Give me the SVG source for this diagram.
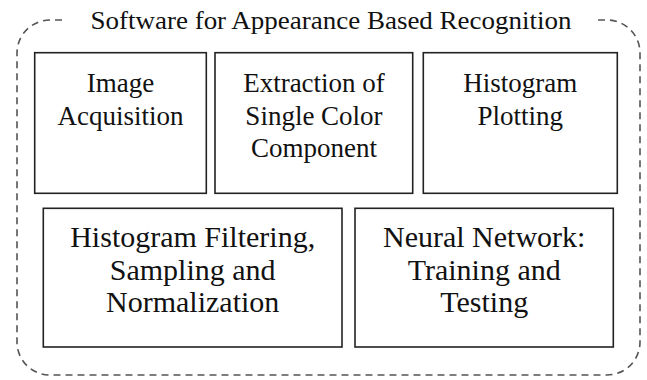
<svg xmlns="http://www.w3.org/2000/svg" width="647" height="380" viewBox="0 0 647 380">
<style>
.box{fill:#fff;stroke:#222;stroke-width:1.6}
text{font-family:'Liberation Serif','DejaVu Serif',serif;fill:#111;text-anchor:middle}
.s{font-size:27px}
.b{font-size:30px}
.outer{fill:none;stroke:#555;stroke-width:1.6;stroke-dasharray:7 5}
</style>
<rect width="647" height="380" fill="#fff"/>
<g id="container">
<path class="outer" d="M62,20 L50,20 A33,33 0 0 0 17,53 L17,342 A33,33 0 0 0 50,375 L607,375 A33,33 0 0 0 640,342 L640,53 A33,33 0 0 0 607,20 L595,20"/>
<text x="331" y="29" font-size="26" font-family="Liberation Serif" textLength="481" lengthAdjust="spacingAndGlyphs">Software for Appearance Based Recognition</text>
</g>
<g id="connectors"></g>
<g id="n1" font-family="Liberation Serif">
<rect class="box" x="34.7" y="52.7" width="171.6" height="140.6"/>
<text class="s" x="120.5" y="91.7">Image</text>
<text class="s" x="120.5" y="124.5">Acquisition</text>
</g>
<g id="n2">
<rect class="box" x="215" y="52.7" width="197.7" height="140.6"/>
<text class="s" x="314" y="91.7">Extraction of</text>
<text class="s" x="314" y="124.5">Single Color</text>
<text class="s" x="314" y="157.3">Component</text>
</g>
<g id="n3">
<rect class="box" x="423.3" y="52.7" width="194" height="140.6"/>
<text class="s" x="520.3" y="91.7">Histogram</text>
<text class="s" x="520.3" y="124.5">Plotting</text>
</g>
<g id="n4">
<rect class="box" x="43.3" y="208.3" width="298.7" height="138.7"/>
<text class="b" x="192.7" y="246.7">Histogram Filtering,</text>
<text class="b" x="192.7" y="279.5">Sampling and</text>
<text class="b" x="192.7" y="312">Normalization</text>
</g>
<g id="n5">
<rect class="box" x="355" y="208.3" width="258.3" height="138.7"/>
<text class="b" x="484.2" y="246.7">Neural Network:</text>
<text class="b" x="484.2" y="279.5">Training and</text>
<text class="b" x="484.2" y="312">Testing</text>
</g>
</svg>
